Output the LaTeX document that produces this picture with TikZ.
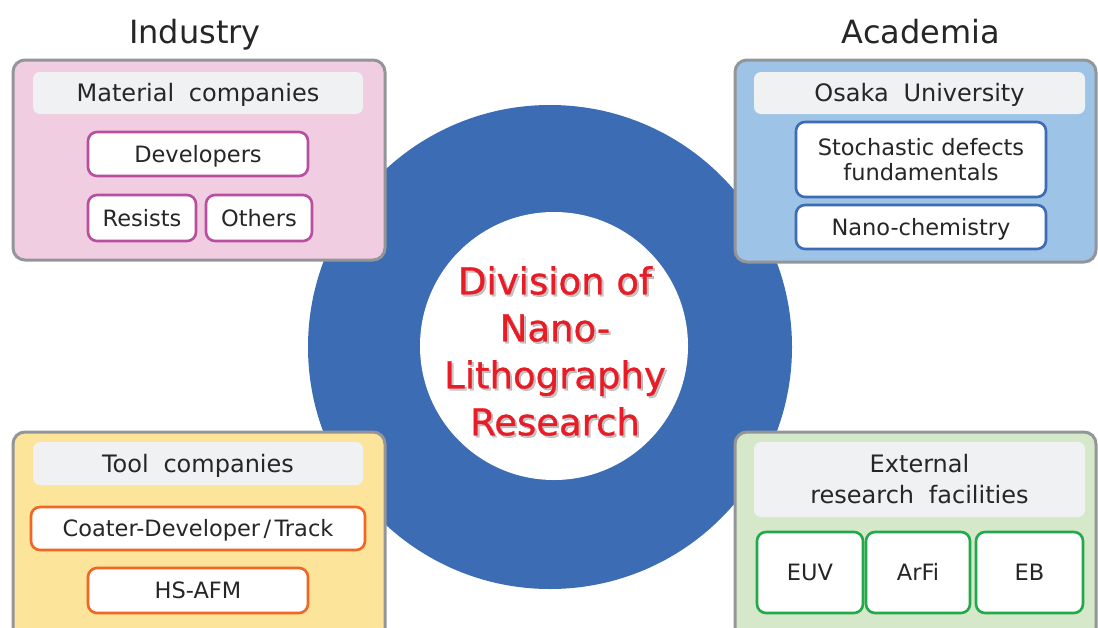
\documentclass[tikz,border=0pt]{standalone}
\usepackage{fontspec}
\setmainfont{DejaVu Sans}
\newfontfamily\heavyfont[FakeBold=0.8]{DejaVu Sans}
\definecolor{ringblue}{RGB}{60,108,180}
\definecolor{pinkfill}{RGB}{241,205,226}
\definecolor{bluefill}{RGB}{157,195,230}
\definecolor{yellowfill}{RGB}{252,228,155}
\definecolor{greenfill}{RGB}{214,232,202}
\definecolor{headfill}{RGB}{240,241,243}
\definecolor{outerline}{RGB}{147,149,152}
\definecolor{magline}{RGB}{184,78,160}
\definecolor{blueline}{RGB}{61,107,180}
\definecolor{orangeline}{RGB}{242,102,36}
\definecolor{greenline}{RGB}{34,169,75}
\definecolor{txt}{RGB}{38,38,38}
\definecolor{titlered}{RGB}{232,28,38}
\tikzset{
  outerbox/.style={draw=outerline, line width=3pt, rounded corners=12pt, inner sep=0pt},
  headbox/.style={fill=headfill, rounded corners=7pt, inner sep=0pt, text=txt, font=\fontsize{24}{28}\selectfont, align=center},
  subbox/.style={fill=white, line width=2.6pt, rounded corners=9pt, inner sep=0pt, text=txt, font=\fontsize{22.5}{25}\selectfont, align=center},
  headline/.style={text height=17.5pt, text depth=0pt},
  subline/.style={text height=16.4pt, text depth=0pt},
  title/.style={text=txt, font=\fontsize{32}{36}\selectfont, inner sep=0pt, anchor=base},
  centertext/.style={font=\heavyfont\fontsize{37}{47}\selectfont, align=center, inner sep=0pt}
}
\begin{document}
\begin{tikzpicture}[x=1pt,y=-1pt]
\useasboundingbox (0,0) rectangle (1098,627);
\clip (0,0) rectangle (1098,627);
% ring
\fill[ringblue] (550,347) circle[radius=242];
\fill[white] (554,346) circle[radius=134];
% titles
\node[title] (industry) at (195,43) {Industry};
\node[title] (academia) at (921,43) {Academia};
% Industry box
\node[outerbox, fill=pinkfill, minimum width=372pt, minimum height=200pt] (ind) at (199,160) {};
\node[headbox, headline, minimum width=330pt, minimum height=42pt] (mat) at (198,93) {Material\hspace{0.3em} companies};
\node[subbox, subline, draw=magline, minimum width=220pt, minimum height=44pt] (dev) at (198,154) {Developers};
\node[subbox, subline, draw=magline, minimum width=108pt, minimum height=46pt] (res) at (142,218) {Resists};
\node[subbox, subline, draw=magline, minimum width=106pt, minimum height=46pt] (oth) at (259,218) {Others};
% Academia box
\node[outerbox, fill=bluefill, minimum width=361pt, minimum height=202pt] (aca) at (915.5,161) {};
\node[headbox, headline, minimum width=331pt, minimum height=42pt] (osaka) at (919.5,93) {Osaka\hspace{0.3em} University};
\node[subbox, draw=blueline, minimum width=250pt, minimum height=75pt] (stoch) at (921,159.5) {Stochastic defects\\fundamentals};
\node[subbox, subline, draw=blueline, minimum width=250pt, minimum height=44pt] (nano) at (921,227) {Nano-chemistry};
% Tool box
\node[outerbox, fill=yellowfill, minimum width=372pt, minimum height=208pt] (tool) at (199,536) {};
\node[headbox, headline, minimum width=330pt, minimum height=43pt] (toolh) at (198,463.5) {Tool\hspace{0.3em} companies};
\node[subbox, subline, draw=orangeline, minimum width=334pt, minimum height=43pt] (coat) at (198,528.5) {Coater-Developer\hspace{0.15em}/\hspace{0.15em}Track};
\node[subbox, subline, draw=orangeline, minimum width=220pt, minimum height=45pt] (afm) at (198,590.5) {HS-AFM};
% External box
\node[outerbox, fill=greenfill, minimum width=361pt, minimum height=208pt] (ext) at (915.5,536) {};
\node[headbox, minimum width=331pt, minimum height=75pt, font=\fontsize{24}{31}\selectfont] (exth) at (919.5,479.5) {External\\research\hspace{0.3em} facilities};
\node[subbox, subline, draw=greenline, minimum width=106pt, minimum height=81pt] (euv) at (810,572.5) {EUV};
\node[subbox, subline, draw=greenline, minimum width=104pt, minimum height=81pt] (arfi) at (918,572.5) {ArFi};
\node[subbox, subline, draw=greenline, minimum width=107pt, minimum height=81pt] (eb) at (1029.5,572.5) {EB};
% centre text with shadow
\node[centertext, text=black, opacity=0.22] (shadow) at (557,353) {Division of\\Nano-\\Lithography\\Research};
\node[centertext, text=titlered] (division) at (555,351) {Division of\\Nano-\\Lithography\\Research};
\end{tikzpicture}
\end{document}
